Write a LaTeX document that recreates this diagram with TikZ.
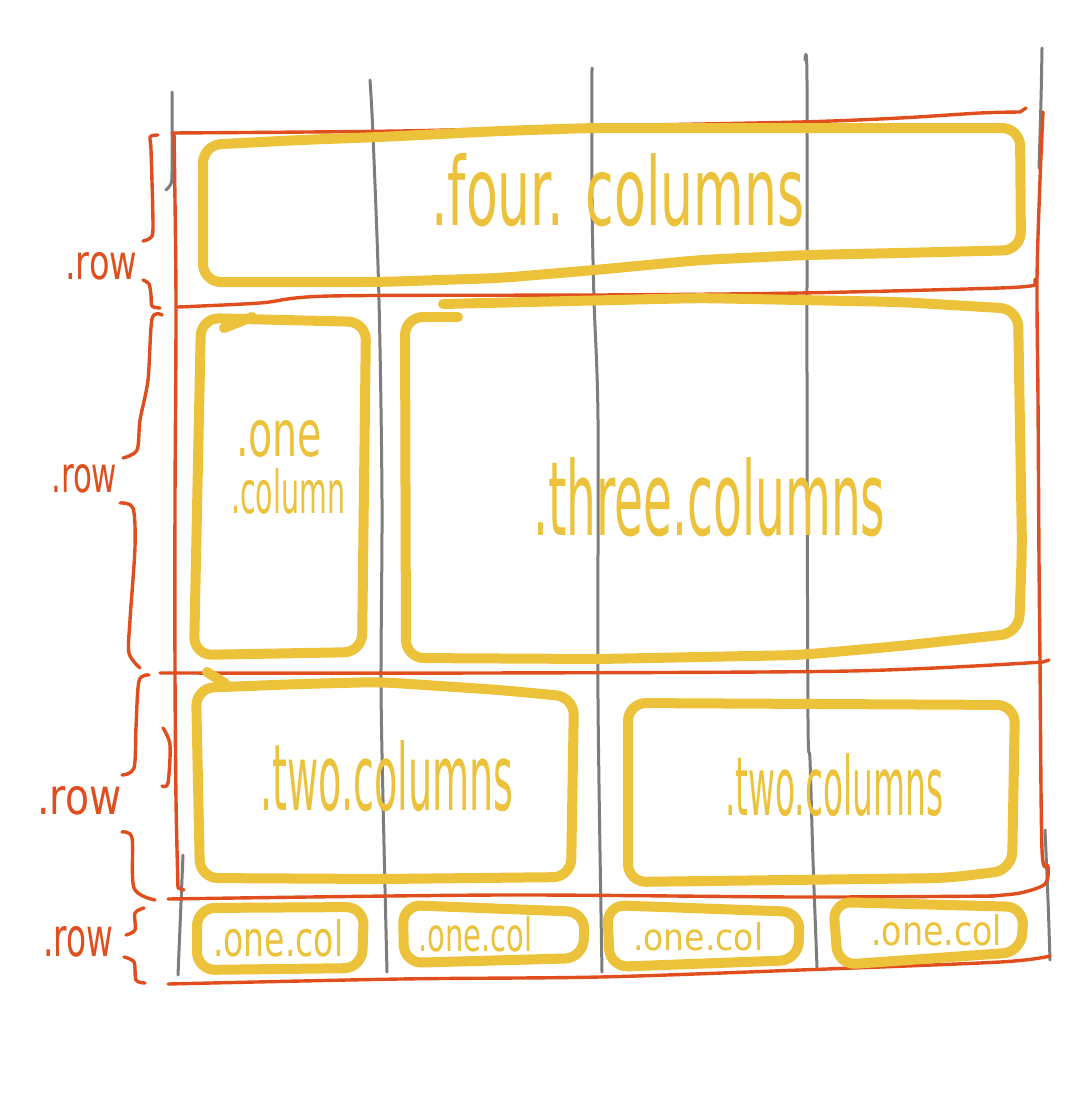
\documentclass[tikz,border=0pt]{standalone}
\usepackage{fontspec}
\usepackage{graphicx}
\newfontfamily\hand{DejaVu Sans}
\definecolor{yel}{RGB}{235,194,58}
\definecolor{redo}{RGB}{224,78,30}
\definecolor{grayl}{RGB}{125,125,125}
\tikzset{
  gline/.style={draw=grayl, line width=3pt, line cap=round, line join=round},
  rline/.style={draw=redo, line width=3.4pt, line cap=round, line join=round},
  ybox/.style={draw=yel, line width=10pt, line cap=round, line join=round, rounded corners=18pt},
  ytail/.style={draw=yel, line width=10pt, line cap=round},
  ytext/.style={text=yel, inner sep=0pt, anchor=south west, font=\hand},
  rtext/.style={text=redo, inner sep=0pt, anchor=south west, font=\hand},
}
\newcommand{\fitbox}[3]{\resizebox{#1pt}{#2pt}{#3}}
\begin{document}
\begin{tikzpicture}[x=1pt,y=-1pt]
\useasboundingbox[fill=white] (0,0) rectangle (1088,1100);
% ---- gray grid columns
\draw[gline] (172,92) -- (172,172) .. controls (172,184) .. (166,190);
\draw[gline] (183,855) -- (178,975);
\draw[gline] plot[smooth] coordinates {(370,80) (373,135) (379,300) (382,500) (381,680) (383,800) (387,972)};
\draw[gline] plot[smooth] coordinates {(592,68) (592,200) (594,300) (598,420) (598,700) (602,972)};
\draw[gline] plot[smooth] coordinates {(805,60) (807,82) (807,380) (808,720) (810,760) (813,860) (817,967)};
\draw[gline] plot[smooth] coordinates {(1042,48) (1041,100) (1039,168)};
\draw[gline] plot[smooth] coordinates {(1045,830) (1048,900) (1050,960)};
% ---- red row lines
\draw[rline] plot[smooth] coordinates {(172,133) (400,131) (600,126) (800,122) (900,118) (980,113) (1020,112)} -- (1026,108);
\draw[rline] plot[smooth] coordinates {(1043,112) (1040,180) (1037,280) (1038,400) (1039,560) (1040,662) (1042,850) (1048,866) (1045,884) (1020,893) (990,896)};
\draw[rline] plot[smooth] coordinates {(178,307) (260,303) (330,296) (600,295) (800,293) (1000,288) (1035,285)} -- (1035,279);
\draw[rline] plot[smooth] coordinates {(160,673) (480,673) (850,671) (1043,662)} -- (1049,660);
\draw[rline] plot[smooth] coordinates {(168,899) (500,895) (800,897) (995,896)};
\draw[rline] plot[smooth] coordinates {(168,984) (400,979) (600,977) (800,970) (1000,962) (1050,956)};
\draw[rline] plot[smooth] coordinates {(174,133) (176,300) (175,500) (175,672) (176,800) (178,888)} -- (184,890);
% ---- red braces
\draw[rline] plot[smooth] coordinates {(158,135) (150,137) (151,150) (153,227) (150,238) (143,241)};
\draw[rline] plot[smooth] coordinates {(143,280) (149,284) (151,295) (152,306) (160,308)};
\draw[rline] plot[smooth] coordinates {(162,315) (152,319) (148,380) (140,420) (137,450) (123,458)};
\draw[rline] plot[smooth] coordinates {(120,503) (133,508) (135,547) (130,620) (129,653) (140,668)};
\draw[rline] plot[smooth] coordinates {(149,675) (139,681) (136,727) (134,768) (122,775)};
\draw[rline] plot[smooth] coordinates {(122,832) (132,838) (134,888) (155,900)};
\draw[rline] plot[smooth] coordinates {(163,728) (170,745) (168,783) (162,786)};
\draw[rline] plot[smooth] coordinates {(144,908) (135,913) (135,930) (126,935)};
\draw[rline] plot[smooth] coordinates {(124,957) (134,962) (136,980) (145,983)};
% ---- yellow column boxes
\draw[ybox] (203,145) -- (300,140) -- (380,137) -- (500,131) -- (590,128) -- (1020,128) -- (1021,250) -- (900,253) -- (806,255) -- (700,260) -- (595,270) -- (500,278) -- (380,282) -- (203,282) -- cycle;
\draw[ybox] (201,318) -- (366,322) -- (362,652) -- (194,655) -- cycle;
\draw[ytail] (224,328) -- (252,317);
\draw[ybox] (458,317) -- (405,317) -- (406,658) -- (600,659) -- (800,655) -- (900,646) -- (1019,633) -- (1022,547) -- (1018,309) -- (900,302) -- (700,298) -- (443,304);
\draw[ybox] (196,688) -- (300,684) -- (380,682) -- (500,690) -- (574,697) -- (571,877) -- (383,879) -- (200,878) -- cycle;
\draw[ytail] (207,672) -- (226,684);
\draw[ybox] (628,703) -- (1015,705) -- (1012,870) -- (947,878) -- (628,882) -- cycle;
\draw[ybox] (197,908) -- (364,907) -- (362,968) -- (197,970) -- cycle;
\draw[ybox] (403,905) -- (585,912) -- (583,958) -- (404,963) -- cycle;
\draw[ybox] (607,905) -- (800,912) -- (798,960) -- (610,967) -- cycle;
\draw[ybox] (833,902) -- (1024,907) -- (1021,952) -- (838,965) -- cycle;
% ---- texts
\node[ytext] (four) at (431,227) {\fitbox{373}{72}{.four. columns}};
\node[ytext] (one) at (236,458) {\fitbox{86}{36}{.one}};
\node[ytext] (column) at (231,515) {\fitbox{114}{45}{.column}};
\node[ytext] (three) at (533,537) {\fitbox{352}{78}{.three.columns}};
\node[ytext] (twoL) at (260,812) {\fitbox{253}{70}{.two.columns}};
\node[ytext] (twoR) at (725,817) {\fitbox{218}{62}{.two.columns}};
\node[ytext] (colA) at (213,957) {\fitbox{130}{37}{.one.col}};
\node[ytext] (colB) at (418,952) {\fitbox{114}{35}{.one.col}};
\node[ytext] (colC) at (633,951) {\fitbox{130}{28}{.one.col}};
\node[ytext] (colD) at (871,946) {\fitbox{131}{31}{.one.col}};
\node[rtext] (rowA) at (65,280) {\fitbox{72}{27}{.row}};
\node[rtext] (rowB) at (51,493) {\fitbox{66}{28}{.row}};
\node[rtext] (rowC) at (37,815) {\fitbox{84}{28}{.row}};
\node[rtext] (rowD) at (43,957) {\fitbox{70}{30}{.row}};
\end{tikzpicture}
\end{document}
